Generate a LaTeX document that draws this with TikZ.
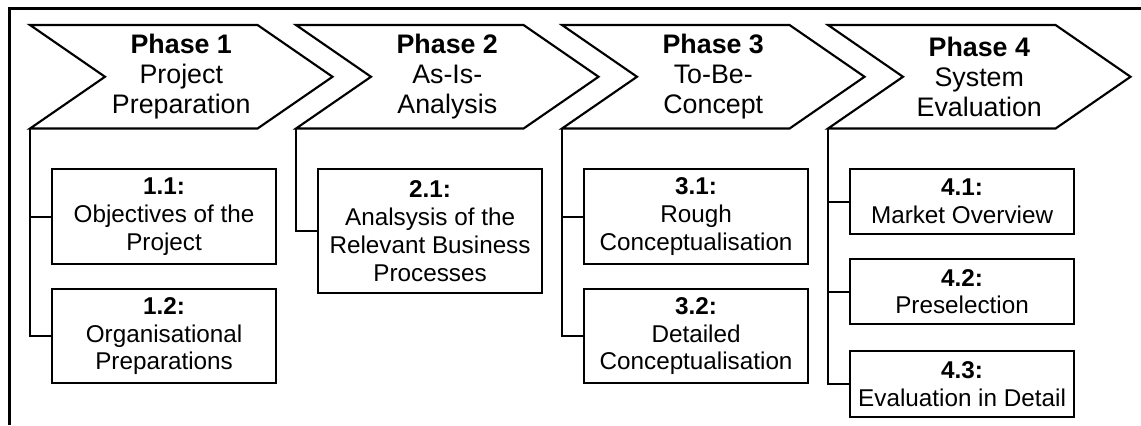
\documentclass[tikz,border=0pt]{standalone}
\usepackage{fontspec}
\setmainfont{Liberation Sans}
\usetikzlibrary{calc}
\begin{document}
\begin{tikzpicture}[x=0.75pt, y=-0.75pt,
  phase/.style={minimum width=226.5pt, minimum height=77.25pt, inner sep=0pt,
    align=center, anchor=north west, font=\fontsize{20.1}{22.6}\selectfont},
  chev/.style={line width=1.6pt, line join=miter},
  task/.style={draw, line width=1.6pt, minimum width=168pt, inner sep=0pt,
    align=center, anchor=north west, font=\fontsize{18.2}{20.8}\selectfont},
  link/.style={line width=1.6pt},
  frame/.style={line width=1.6pt}]
\useasboundingbox (0,0) rectangle (1141,425);

% outer frame (top and left edges only)
\draw[frame] (9.5,425) -- (9.5,8.5) -- (1141,8.5);

% phase chevrons
\node[phase] (p1) at (30,25)  {\textbf{Phase 1}\\Project\\Preparation};
\node[phase] (p2) at (296,25) {\textbf{Phase 2}\\As-Is-\\Analysis};
\node[phase] (p3) at (562,25) {\textbf{Phase 3}\\To-Be-\\Concept};
\node[phase] (p4) at (828,25) {\textbf{Phase 4}\\System\\Evaluation};
\foreach \p in {p1,p2,p3,p4}
  \draw[chev] (\p.north west) -- ($(\p.north east)+(-75,0)$) -- (\p.east)
    -- ($(\p.south east)+(-75,0)$) -- (\p.south west) -- ($(\p.west)+(75,0)$) -- cycle;

% tasks of phase 1
\node[task, minimum height=71.25pt] (t11) at (51,168) {\textbf{1.1:}\\Objectives of the\\Project};
\node[task, minimum height=70.5pt]  (t12) at (51,288) {\textbf{1.2:}\\Organisational\\Preparations};
% tasks of phase 2
\node[task, minimum height=93pt]    (t21) at (317,168) {\textbf{2.1:}\\Analsysis of the\\Relevant Business\\Processes};
% tasks of phase 3
\node[task, minimum height=71.25pt] (t31) at (583,168) {\textbf{3.1:}\\Rough\\Conceptualisation};
\node[task, minimum height=70.5pt]  (t32) at (583,288) {\textbf{3.2:}\\Detailed\\Conceptualisation};
% tasks of phase 4
\node[task, minimum height=48.75pt] (t41) at (849,168) {\textbf{4.1:}\\Market Overview};
\node[task, minimum height=48.75pt] (t42) at (849,258) {\textbf{4.2:}\\Preselection};
\node[task, minimum height=49.5pt]  (t43) at (849,350) {\textbf{4.3:}\\Evaluation in Detail};

% connectors from each phase to its tasks
\draw[link] (p1.south west) |- (t11.west);
\draw[link] (p1.south west) |- (t12.west);
\draw[link] (p2.south west) |- (t21.west);
\draw[link] (p3.south west) |- (t31.west);
\draw[link] (p3.south west) |- (t32.west);
\draw[link] (p4.south west) |- (t41.west);
\draw[link] (p4.south west) |- (t42.west);
\draw[link] (p4.south west) |- (t43.west);
\end{tikzpicture}
\end{document}
